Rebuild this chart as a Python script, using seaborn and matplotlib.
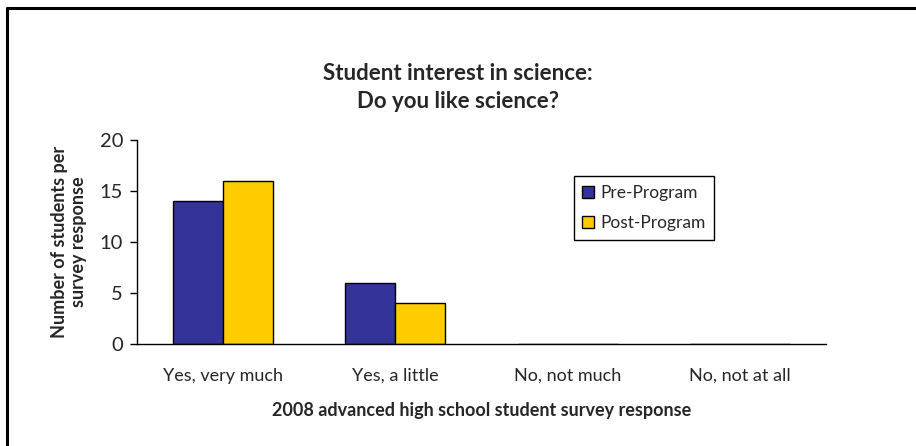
import matplotlib
matplotlib.use("Agg")
import matplotlib.pyplot as plt
import seaborn as sns
import pandas as pd
from matplotlib.lines import Line2D
from matplotlib.patches import Patch

categories = ["Yes, very much", "Yes, a little", "No, not much", "No, not at all"]
pre_program = [14, 6, 0, 0]
post_program = [16, 4, 0, 0]
series_names = ["Pre-Program", "Post-Program"]
colors = ["#333399", "#FFCC00"]
y_ticks = [0, 5, 10, 15, 20]

sns.set_style("white")
plt.rcParams["font.family"] = ["Lato", "DejaVu Sans"]

df = pd.DataFrame({
    "category": categories * 2,
    "value": pre_program + post_program,
    "series": [series_names[0]] * 4 + [series_names[1]] * 4,
})

fig = plt.figure(figsize=(9.16, 4.46), dpi=100)
ax = fig.add_axes([137 / 916, 1 - 344 / 446, (826 - 137) / 916, (344 - 140) / 446])

sns.barplot(data=df, x="category", y="value", hue="series", order=categories,
            hue_order=series_names, palette=colors, saturation=1, width=0.58,
            edgecolor="black", linewidth=1, ax=ax, legend=False)

ax.set_xlim(-0.5, 3.5)
ax.set_ylim(0, 20)
ax.set_yticks(y_ticks)
ax.set_yticklabels([str(t) for t in y_ticks], fontsize=14.5)

ax.set_xticks([-0.5, 0.5, 1.5, 2.5, 3.5])
ax.set_xticklabels([])
ax.set_xticks([0, 1, 2, 3], minor=True)
ax.set_xticklabels(categories, minor=True, fontsize=13)
ax.tick_params(axis="x", which="major", direction="out", length=5, width=1, color="black")
ax.tick_params(axis="x", which="minor", length=0, pad=17)
ax.tick_params(axis="y", direction="out", length=5, width=1, color="black", left=True, pad=5)

for s in ["top", "right"]:
    ax.spines[s].set_visible(False)
for s in ["left", "bottom"]:
    ax.spines[s].set_color("black")
    ax.spines[s].set_linewidth(1)
ax.spines["bottom"].set_zorder(5)

ax.set_xlabel("2008 advanced high school student survey response", fontsize=13,
              fontweight="bold", labelpad=13)
ax.set_ylabel("Number of students per\nsurvey response", fontsize=13,
              fontweight="bold", labelpad=9, linespacing=1.15)

fig.text(458 / 916, 1 - 74 / 446, "Student interest in science:", ha="center", va="center",
         fontsize=16, fontweight="bold")
fig.text(458 / 916, 1 - 102 / 446, "Do you like science?", ha="center", va="center",
         fontsize=16, fontweight="bold")

handles = [Patch(facecolor=c, edgecolor="black", linewidth=1) for c in colors]
leg = ax.legend(handles, series_names, loc="center",
                bbox_to_anchor=(644 / 916, 1 - 208 / 446), bbox_transform=fig.transFigure,
                frameon=True, fancybox=False, framealpha=1, edgecolor="black",
                fontsize=12.5, handlelength=0.7, handleheight=0.7, handletextpad=0.35,
                labelspacing=0.8, borderpad=0.5, borderaxespad=0)
leg.get_frame().set_linewidth(1)

fig.add_artist(Line2D([7 / 916, 1], [1 - 7.5 / 446, 1 - 7.5 / 446], transform=fig.transFigure,
                      color="black", linewidth=2.2))
fig.add_artist(Line2D([7 / 916, 7 / 916], [0, 1 - 7.5 / 446], transform=fig.transFigure,
                      color="black", linewidth=2.2))

fig.savefig("out.png", dpi=100)
